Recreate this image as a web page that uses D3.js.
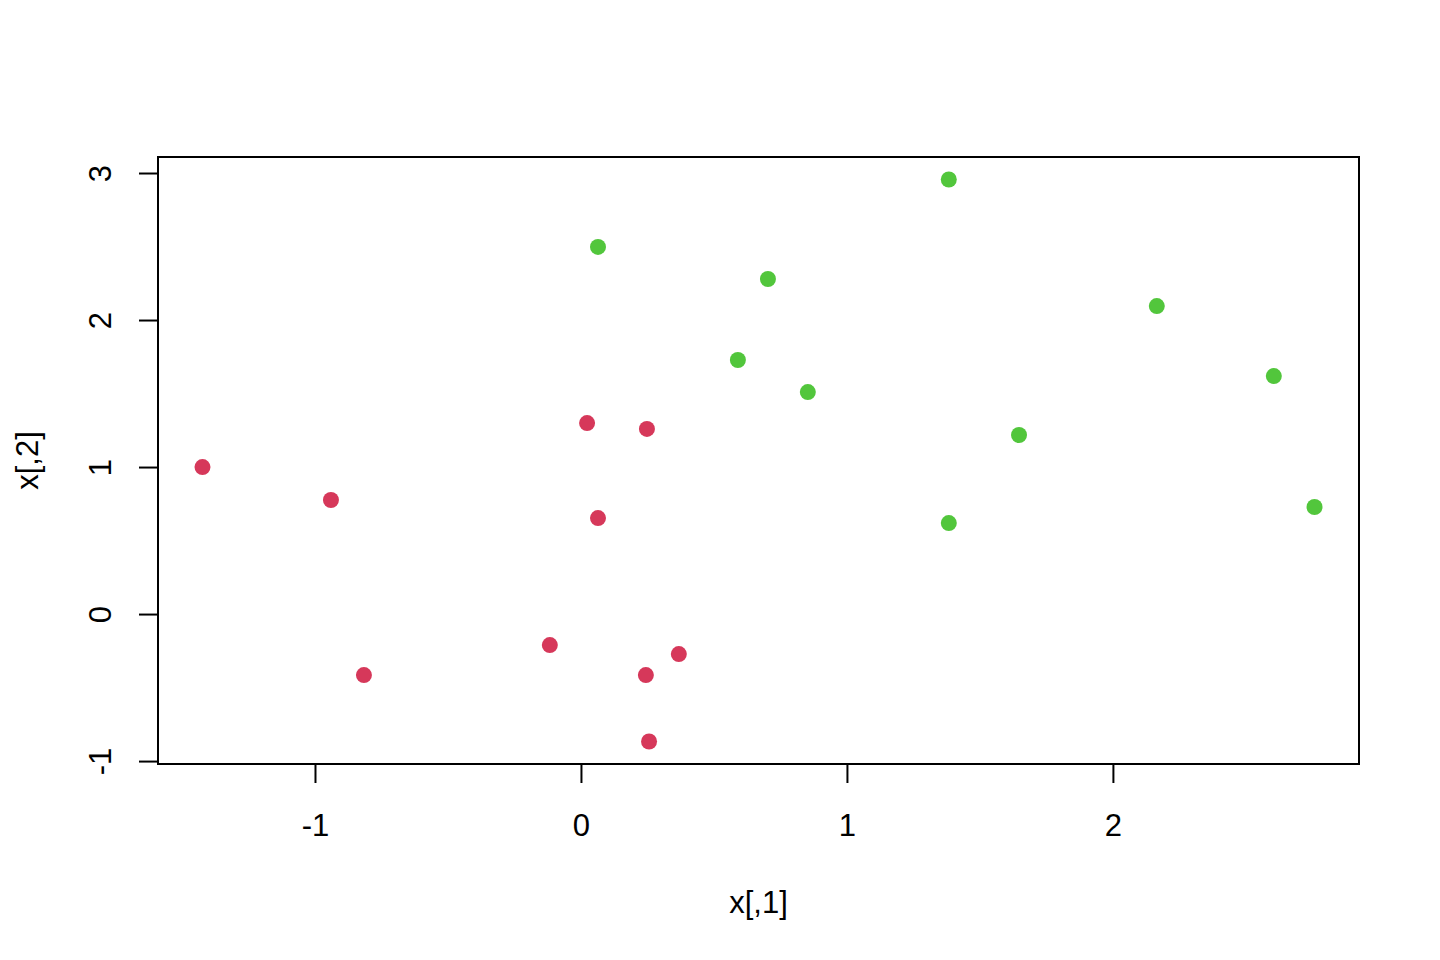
<!DOCTYPE html>
<html><head><meta charset="utf-8">
<script src="https://cdn.jsdelivr.net/npm/d3@7"></script>
<style>body{margin:0;background:#fff}svg{display:block}text{font-family:"Liberation Sans",Arial,sans-serif;fill:#000}</style>
</head><body><svg id="c" width="1440" height="960"></svg>
<script>
const redX = [-1.423, -0.940, -0.816, -0.117, 0.023, 0.248, 0.064, 0.244, 0.368, 0.256];
const redY = [1.000, 0.776, -0.415, -0.211, 1.299, 1.259, 0.653, -0.415, -0.272, -0.867];
const greenX = [1.383, 0.064, 0.703, 2.165, 0.590, 0.853, 2.605, 1.647, 1.383, 2.758];
const greenY = [2.956, 2.497, 2.279, 2.095, 1.728, 1.510, 1.619, 1.218, 0.619, 0.728];
const xTicks = [-1, 0, 1, 2];
const yTicks = [-1, 0, 1, 2, 3];
const xLabel = "x[,1]", yLabel = "x[,2]";
const colors = ["#D6385A", "#52C63C"];

const svg = d3.select("#c");
const L = 158, R = 1359, T = 157, B = 764;
const allX = redX.concat(greenX), allY = redY.concat(greenY);
const [x0, x1] = d3.extent(allX), [y0, y1] = d3.extent(allY);
const px = (x1 - x0) * 0.04, py = (y1 - y0) * 0.04;
const x = d3.scaleLinear().domain([x0 - px, x1 + px]).range([L, R]);
const y = d3.scaleLinear().domain([y0 - py, y1 + py]).range([B, T]);

const fs = 31;
const fmt = d => String(d);
// x axis
const xa = svg.append("g").attr("transform", `translate(0,${B})`)
  .call(d3.axisBottom(x).tickValues(xTicks).tickSize(19).tickFormat(fmt));
xa.select(".domain").attr("d", `M${x(xTicks[0])},0H${x(xTicks[xTicks.length-1])}`).attr("stroke-width", 2);
xa.selectAll(".tick line").attr("stroke-width", 2);
xa.selectAll("text").attr("font-size", fs).attr("font-family", "Liberation Sans, Arial, sans-serif").attr("fill", "#000")
  .attr("y", 61).attr("dy", null).attr("dominant-baseline", "central");
// y axis
const ya = svg.append("g").attr("transform", `translate(${L},0)`)
  .call(d3.axisLeft(y).tickValues(yTicks).tickSize(19).tickFormat(fmt));
ya.select(".domain").attr("d", `M0,${y(yTicks[0])}V${y(yTicks[yTicks.length-1])}`).attr("stroke-width", 2);
ya.selectAll(".tick line").attr("stroke-width", 2);
ya.selectAll("text").attr("font-size", fs).attr("font-family", "Liberation Sans, Arial, sans-serif").attr("fill", "#000")
  .attr("x", null).attr("dy", null)
  .attr("text-anchor", "middle")
  .attr("transform", "translate(-58,0) rotate(-90)")
  .attr("dominant-baseline", "central");

// box
svg.append("rect").attr("x", L).attr("y", T).attr("width", R - L).attr("height", B - T)
  .attr("fill", "none").attr("stroke", "#000").attr("stroke-width", 2);

// points
const pts = redX.map((v, i) => ({x: v, y: redY[i], c: colors[0]}))
  .concat(greenX.map((v, i) => ({x: v, y: greenY[i], c: colors[1]})));
svg.append("g").selectAll("circle").data(pts).join("circle")
  .attr("cx", d => x(d.x)).attr("cy", d => y(d.y)).attr("r", 8).attr("fill", d => d.c);

// labels
svg.append("text").attr("x", (L + R) / 2).attr("y", 902).attr("text-anchor", "middle")
  .attr("dominant-baseline", "central").attr("font-size", fs).text(xLabel);
svg.append("text").attr("transform", `translate(27,${(T + B) / 2}) rotate(-90)`).attr("text-anchor", "middle")
  .attr("dominant-baseline", "central").attr("font-size", fs).text(yLabel);
</script></body></html>
